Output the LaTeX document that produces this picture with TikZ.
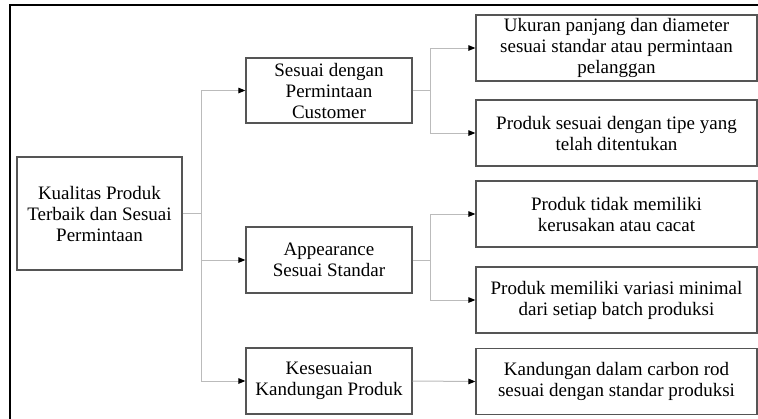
\documentclass[tikz,border=0pt]{standalone}
\usepackage{fontspec}
\setmainfont{Liberation Serif}
\usetikzlibrary{arrows.meta}
\definecolor{boxline}{HTML}{555555}
\definecolor{connline}{HTML}{BBBBBB}
\tikzset{
  box/.style={draw=boxline, line width=1.2pt, align=center, inner sep=0pt,
    font=\fontsize{19}{21}\selectfont},
  midbox/.style={box, minimum width=166pt, minimum height=66pt},
  rightbox/.style={box, minimum width=281pt, minimum height=66pt},
  conn/.style={draw=connline, line width=1pt,
    -{Triangle[length=7pt,width=5.5pt,color=black]}},
  plainconn/.style={draw=connline, line width=1pt},
  frameline/.style={draw=black, line width=2pt}
}
\begin{document}
\begin{tikzpicture}[x=1pt,y=-1pt]
\useasboundingbox (0,0) rectangle (758,418);
\fill[white] (0,0) rectangle (758,418);
\draw[frameline] (9.5,420) -- (9.5,4.5) -- (760,4.5);

\node[box, minimum width=165pt, minimum height=113pt] (root) at (99.5,213.5)
  {Kualitas Produk\\Terbaik dan Sesuai\\Permintaan};

\node[midbox, minimum height=65pt] (s1) at (329,90.5) {Sesuai dengan\\Permintaan\\Customer};
\node[midbox] (s2) at (329,260) {Appearance\\Sesuai Standar};
\node[midbox] (s3) at (329,381) {Kesesuaian\\Kandungan Produk};

\node[rightbox] (r1) at (616.5,48) {Ukuran panjang dan diameter\\sesuai standar atau permintaan\\pelanggan};
\node[rightbox] (r2) at (616.5,133) {Produk sesuai dengan tipe yang\\telah ditentukan};
\node[rightbox] (r3) at (616.5,214) {Produk tidak memiliki\\kerusakan atau cacat};
\node[rightbox] (r4) at (616.5,300) {Produk memiliki variasi minimal\\dari setiap batch produksi};
\node[rightbox] (r5) at (616.5,381.5) {Kandungan dalam carbon rod\\sesuai dengan standar produksi};

\coordinate (t) at (201,213.5);
\draw[plainconn] (root.east) -- (t);
\draw[conn] (t) |- (s1.west);
\draw[conn] (t) |- (s2.west);
\draw[conn] (t) |- (s3.west);

\coordinate (b1) at (430,90.5);
\draw[plainconn] (s1.east) -- (b1);
\draw[conn] (b1) |- (r1.west);
\draw[conn] (b1) |- (r2.west);

\coordinate (b2) at (430,260);
\draw[plainconn] (s2.east) -- (b2);
\draw[conn] (b2) |- (r3.west);
\draw[conn] (b2) |- (r4.west);

\draw[conn] (s3.east) -- (r5.west);
\end{tikzpicture}
\end{document}
